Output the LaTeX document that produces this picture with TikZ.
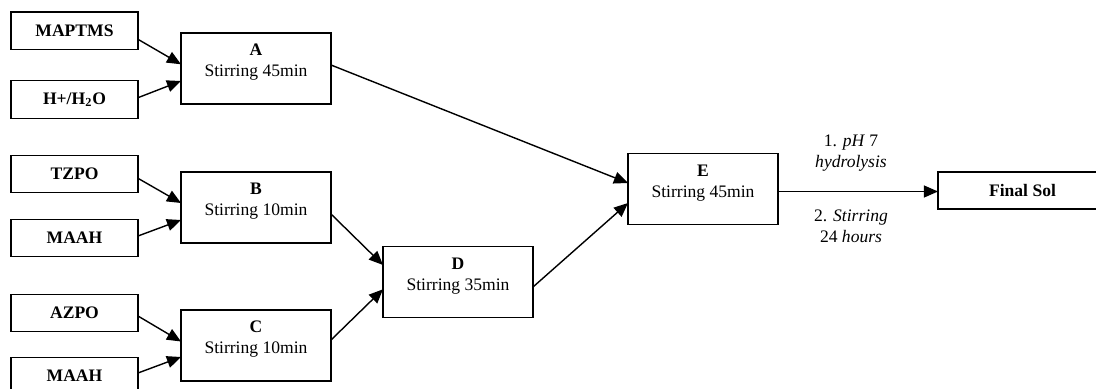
\documentclass[tikz,border=0pt]{standalone}
\usepackage{fontspec}
\setmainfont{Liberation Serif}
\usetikzlibrary{arrows.meta,calc}
\begin{document}
\begin{tikzpicture}[x=0.02cm,y=-0.02cm,
  font=\fontsize{10}{11.9}\selectfont,
  inbox/.style={draw,line width=0.8pt,inner sep=0pt,outer sep=0pt,
    minimum width=2.54cm,minimum height=0.75cm,font=\fontsize{10}{11.9}\selectfont\bfseries},
  procbox/.style={draw,line width=0.8pt,inner sep=0pt,outer sep=0pt,
    minimum width=3cm,minimum height=1.42cm},
  proctext/.style={align=center,inner sep=0pt},
  finalbox/.style={draw,line width=0.8pt,inner sep=0pt,outer sep=0pt,
    minimum width=3.38cm,minimum height=0.74cm,font=\fontsize{10}{11.9}\selectfont\bfseries},
  flow/.style={line width=0.8pt,-{Triangle[length=8pt,width=6.8pt]}},
  steplabel/.style={align=center,inner sep=0pt}]
\useasboundingbox (0,0) rectangle (1096,389);

% raw materials
\node[inbox] (mapt) at (74.5,30.7) {MAPTMS};
\node[inbox] (acid) at (74.5,99.5) {H+/H\textsubscript{2}O};
\node[inbox] (tzpo) at (74.5,174) {TZPO};
\node[inbox] (maahB) at (74.5,238) {MAAH};
\node[inbox] (azpo) at (74.5,313) {AZPO};
\node[inbox] (maahC) at (74.5,376) {MAAH};

% mixing steps
\node[procbox] (A) at (256,68.5) {};
\node[proctext] (At) at (256,62.5) {\textbf{A}\\Stirring 45min};
\node[procbox] (B) at (256,207.5) {};
\node[proctext] (Bt) at (256,201.5) {\textbf{B}\\Stirring 10min};
\node[procbox] (C) at (256,345.5) {};
\node[proctext] (Ct) at (256,339.5) {\textbf{C}\\Stirring 10min};
\node[procbox] (D) at (458,282) {};
\node[proctext] (Dt) at (458,276) {\textbf{D}\\Stirring 35min};
\node[procbox] (E) at (703,189) {};
\node[proctext] (Et) at (703,183) {\textbf{E}\\Stirring 45min};

% product
\node[finalbox] (F) at (1022.5,190.5) {Final Sol};

% inputs to A, B, C
\draw[flow] ($(mapt.east)+(0,8.6)$) -- ($(A.west)+(0,-4.2)$);
\draw[flow] ($(acid.east)+(0,-1.8)$) -- ($(A.west)+(0,12.5)$);
\draw[flow] ($(tzpo.east)+(0,4.3)$) -- ($(B.west)+(0,-4.5)$);
\draw[flow] ($(maahB.east)+(0,-2)$) -- ($(B.west)+(0,12.5)$);
\draw[flow] ($(azpo.east)+(0,3)$) -- ($(C.west)+(0,-4)$);
\draw[flow] ($(maahC.east)+(0,-3)$) -- ($(C.west)+(0,11.5)$);

% B, C to D; A, D to E
\draw[flow] ($(B.east)+(0,6.5)$) -- ($(D.west)+(0,-17)$);
\draw[flow] ($(C.east)+(0,-5.5)$) -- ($(D.west)+(0,7.3)$);
\draw[flow] ($(A.east)+(0,-3.5)$) -- ($(E.west)+(0,-6)$);
\draw[flow] ($(D.east)+(0,5)$) -- ($(E.west)+(0,14)$);

% E to final solution
\draw[flow] ($(E.east)+(0,2.5)$) -- ($(F.west)+(0,1)$);
\node[steplabel] (cond1) at (851,153.5) {1. \textit{pH} 7\\\textit{hydrolysis}};
\node[steplabel] (cond2) at (851,226.5) {2. \textit{Stirring}\\24 \textit{hours}};
\end{tikzpicture}
\end{document}
